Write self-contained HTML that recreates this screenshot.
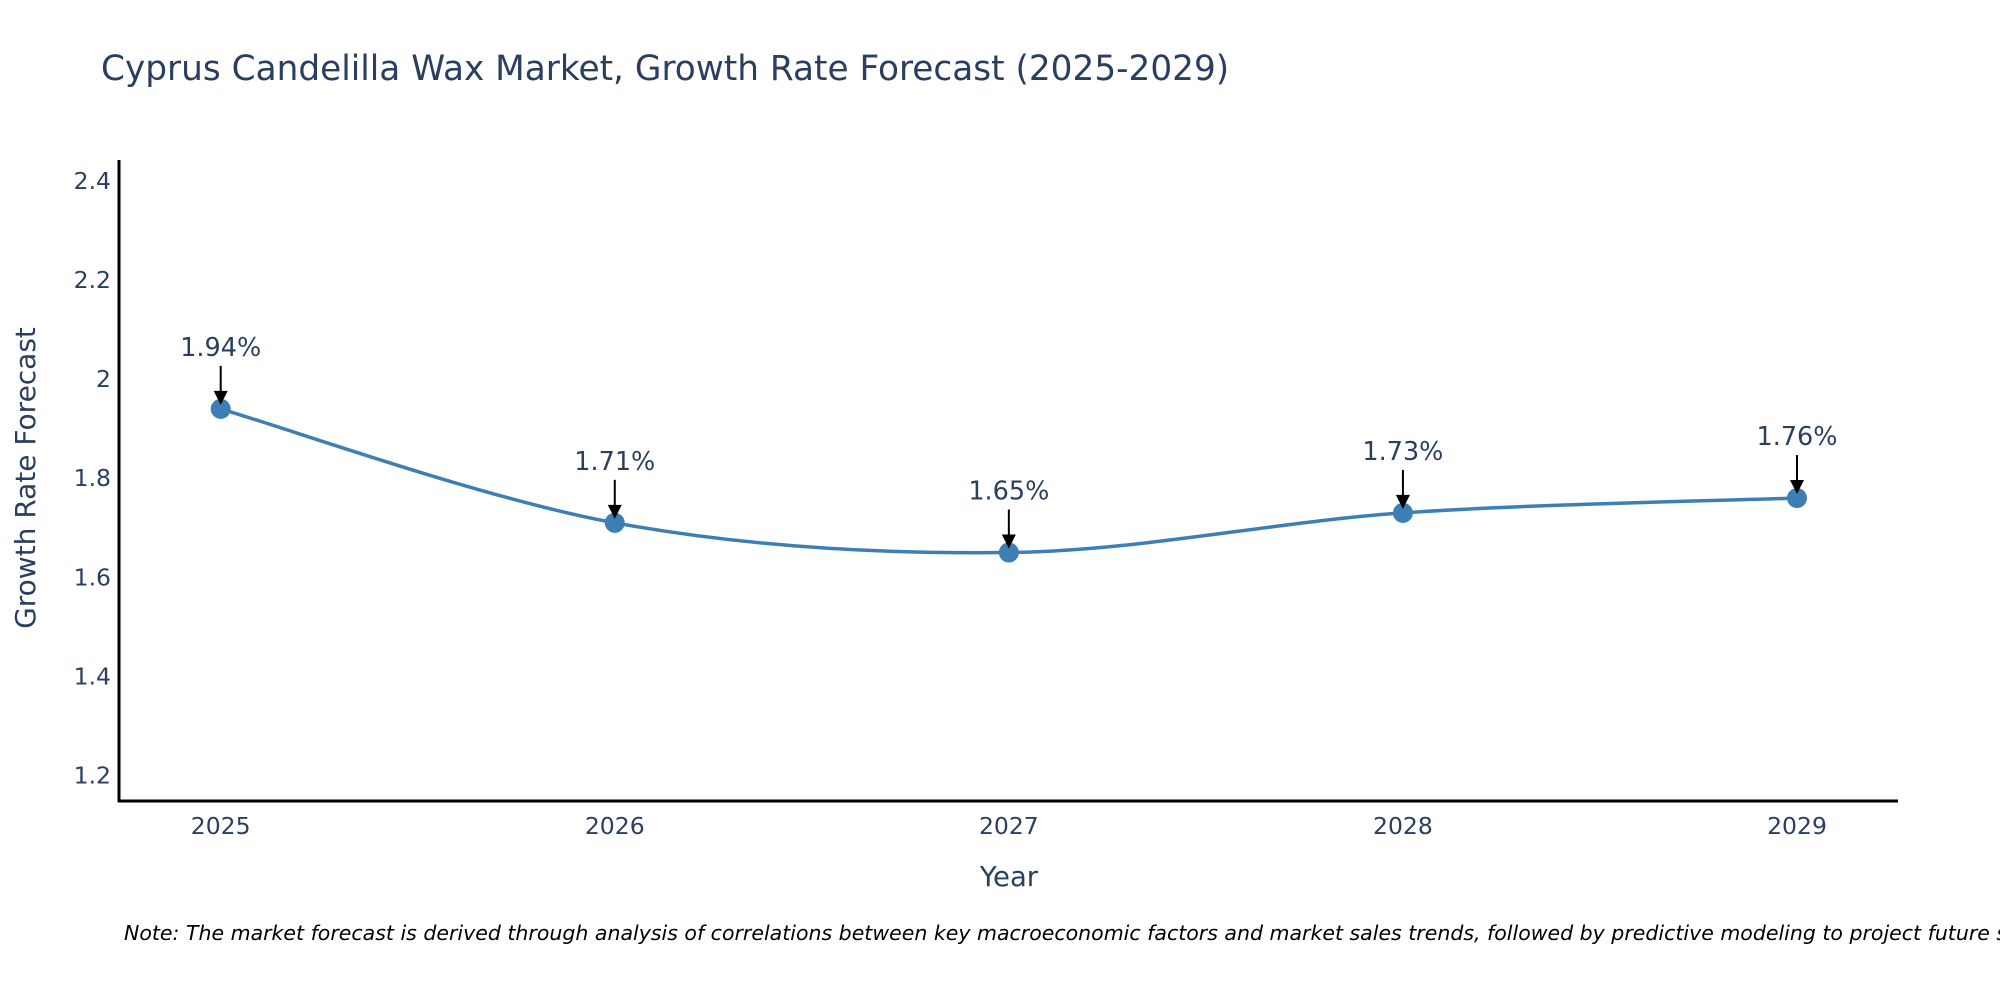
<!DOCTYPE html>
<html><head><meta charset="utf-8"><style>
html,body{margin:0;padding:0;background:#fff;}
svg{display:block;font-family:"DejaVu Sans","Liberation Sans",sans-serif;}
</style></head><body>
<svg id="chart" width="2000" height="1000">
<text x="101" y="80" font-size="34.3" fill="#2a3f5f">Cyprus Candelilla Wax Market, Growth Rate Forecast (2025-2029)</text>
<g id="yticks"></g>
<g id="xticks"></g>
<line x1="119" y1="160" x2="119" y2="802" stroke="#000" stroke-width="3"/>
<line x1="118" y1="801" x2="1898" y2="801" stroke="#000" stroke-width="3"/>
<text transform="translate(35,478) rotate(-90)" text-anchor="middle" font-size="28" fill="#2a3f5f">Growth Rate Forecast</text>
<text x="1009" y="886" text-anchor="middle" font-size="27.5" fill="#2a3f5f">Year</text>
<path id="line" fill="none" stroke="#3d7fb5" stroke-width="3.5"/>
<g id="marks"></g>
<text x="124" y="940" font-size="20.5" font-style="italic" fill="#000">Note: The market forecast is derived through analysis of correlations between key macroeconomic factors and market sales trends, followed by predictive modeling to project future sales.</text>
</svg>
<script>
const years = [2025, 2026, 2027, 2028, 2029];
const values = [1.94, 1.71, 1.65, 1.73, 1.76];
const labels = ["1.94%", "1.71%", "1.65%", "1.73%", "1.76%"];
const yTicks = [1.2, 1.4, 1.6, 1.8, 2, 2.2, 2.4];
const yTickLabels = ["1.2", "1.4", "1.6", "1.8", "2", "2.2", "2.4"];

const NS = "http://www.w3.org/2000/svg";
function xs(v){ return 220.7 + (v - 2025) * (1797 - 220.7) / 4; }
function ys(v){ return 181 + (2.4 - v) * 495.4; }
function mk(tag, attrs, parent){
  const e = document.createElementNS(NS, tag);
  for (const k in attrs) e.setAttribute(k, attrs[k]);
  parent.appendChild(e);
  return e;
}
const yg = document.getElementById('yticks');
yTicks.forEach((t, i) => {
  const e = mk('text', {x: 111, y: ys(t) + 8, 'text-anchor': 'end', 'font-size': 23.5, fill: '#2a3f5f'}, yg);
  
  
  e.textContent = yTickLabels[i];
});
const xg = document.getElementById('xticks');
years.forEach(y => {
  const e = mk('text', {x: xs(y), y: 834, 'text-anchor': 'middle', 'font-size': 23.5, fill: '#2a3f5f'}, xg);
  
  
  e.textContent = String(y);
});
const pts = years.map((y, i) => [xs(y), ys(values[i])]);
let d = 'M' + pts[0][0] + ',' + pts[0][1];
const s = 1/6;
for (let i = 0; i < pts.length - 1; i++) {
  const p0 = pts[Math.max(i - 1, 0)], p1 = pts[i], p2 = pts[i + 1], p3 = pts[Math.min(i + 2, pts.length - 1)];
  const c1 = [p1[0] + (p2[0] - p0[0]) * s, p1[1] + (p2[1] - p0[1]) * s];
  const c2 = [p2[0] - (p3[0] - p1[0]) * s, p2[1] - (p3[1] - p1[1]) * s];
  d += ' C' + c1 + ' ' + c2 + ' ' + p2;
}
document.getElementById('line').setAttribute('d', d);
const mg = document.getElementById('marks');
pts.forEach((p, i) => {
  const c = mk('circle', {cx: p[0], cy: p[1], r: 10, fill: '#3d7fb5'}, mg);
  
  
  const l = mk('line', {x1: p[0], y1: p[1] - 43, x2: p[0], y2: p[1] - 14, stroke: '#000', 'stroke-width': 2}, mg);
  
  
  const a = mk('path', {d: `M${p[0]-7},${p[1]-18} L${p[0]+7},${p[1]-18} L${p[0]},${p[1]-4} Z`, fill: '#000'}, mg);
  
  
  const t = mk('text', {x: p[0], y: p[1] - 53, 'text-anchor': 'middle', 'font-size': 25.5, fill: '#2a3f5f'}, mg);
  
  
  t.textContent = labels[i];
});
</script>
</body></html>
